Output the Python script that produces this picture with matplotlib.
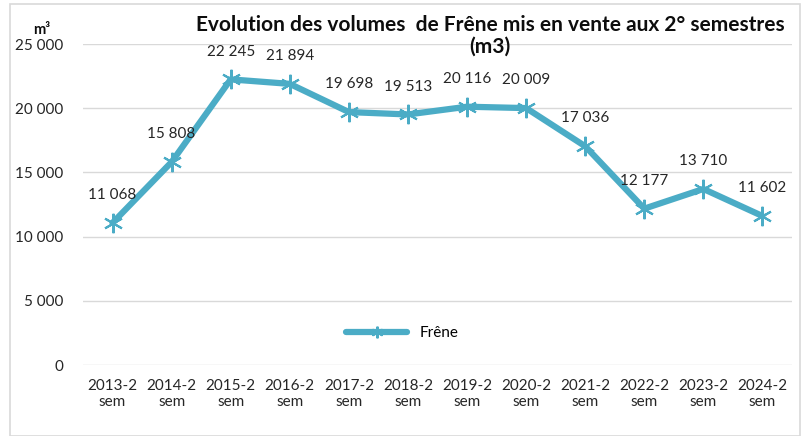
import numpy as np
import matplotlib.pyplot as plt

# ---------- Data ----------
categories = ['2013-2\nsem', '2014-2\nsem', '2015-2\nsem', '2016-2\nsem', '2017-2\nsem',
              '2018-2\nsem', '2019-2\nsem', '2020-2\nsem', '2021-2\nsem', '2022-2\nsem',
              '2023-2\nsem', '2024-2\nsem']
frene = [11068, 15808, 22245, 21894, 19698, 19513, 20116, 20009, 17036, 12177, 13710, 11602]
y_ticks = [0, 5000, 10000, 15000, 20000, 25000]

plt.rcParams['font.family'] = ['Lato', 'DejaVu Sans']

def fmt(v):
    return f"{v:,}".replace(',', ' ')

color = '#4BACC6'

fig = plt.figure(figsize=(8.04, 4.36), dpi=100)
# outer chart border
border = plt.Rectangle((0.013, 0.0), 0.982, 0.99, transform=fig.transFigure,
                       fill=False, edgecolor='#D9D9D9', linewidth=1.2)
fig.patches.append(border)

ax = fig.add_axes([83 / 804, 1 - 365 / 436, (792 - 83) / 804, (365 - 44) / 436])
x = np.arange(len(categories))
ax.plot(x, frene, color=color, linewidth=4.5, marker=(6, 2, 0), markersize=14,
        markeredgewidth=1.5, markeredgecolor=color, label='Frêne', solid_capstyle='round')

for xi, v in zip(x, frene):
    ax.annotate(fmt(v), (xi, v), xytext=(0, 15), textcoords='offset points',
                ha='center', va='bottom', fontsize=11, color='#262626')

ax.set_xlim(-0.5, len(categories) - 0.5)
ax.set_ylim(0, 25000)
ax.set_yticks(y_ticks)
ax.set_yticklabels([fmt(v) for v in y_ticks], fontsize=11, color='#262626')
ax.set_xticks(x)
ax.set_xticklabels(categories, fontsize=11, color='#262626')
ax.tick_params(length=0, pad=10)
ax.tick_params(axis='y', pad=14)
ax.grid(axis='y', color='#D9D9D9', linewidth=1)
ax.set_axisbelow(True)
for s in ax.spines.values():
    s.set_visible(False)

# title on two separate lines
fig.text(490 / 804, 1 - 25 / 436, 'Evolution des volumes  de Frêne mis en vente aux 2° semestres',
         ha='center', va='center', fontsize=15, fontweight='bold', color='#0D0D0D')
fig.text(490 / 804, 1 - 47 / 436, '(m3)',
         ha='center', va='center', fontsize=15, fontweight='bold', color='#0D0D0D')
fig.text(42 / 804, 1 - 30 / 436, 'm³', ha='center', va='center', fontsize=10.5,
         fontweight='bold', color='#0D0D0D')

ax.legend(loc='center', bbox_to_anchor=(0.45, 0.1), frameon=False, fontsize=11,
          handlelength=4, markerscale=0.6)

plt.savefig('out.png', dpi=100)
